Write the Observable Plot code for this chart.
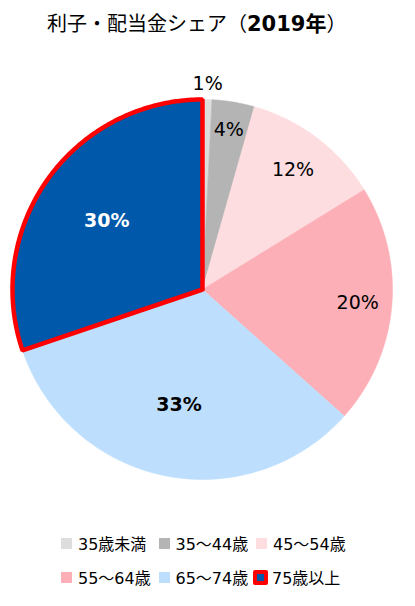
<!DOCTYPE html>
<html><head><meta charset="utf-8">
<script src="https://cdn.jsdelivr.net/npm/d3@7"></script>
<script src="https://cdn.jsdelivr.net/npm/@observablehq/plot@0.6"></script>
<style>
html,body{margin:0;padding:0;background:#fff;}
#wrap{position:relative;width:415px;height:606px;overflow:hidden;font-family:"DejaVu Sans","Noto Sans CJK JP",sans-serif;color:#000;}
#title{position:absolute;left:47px;top:10px;font-size:20px;line-height:28px;white-space:nowrap;}
#title b{font-weight:bold;font-size:21px;}
#chart{position:absolute;left:0;top:50px;}
.leg{position:absolute;height:20px;display:flex;align-items:center;font-size:16px;white-space:nowrap;}
.sw{width:11px;height:11px;margin-right:6px;box-sizing:border-box;}
</style></head>
<body><div id="wrap">
<div id="title">利子・配当金シェア（<b>2019年</b>）</div>
<div id="chart"></div>
<div id="legend"></div>
</div>
<script>
const ages = ["35歳未満", "35～44歳", "45～54歳", "55～64歳", "65～74歳", "75歳以上"];
const shares = [0.8, 3.6, 11.8, 20.4, 33.2, 30.2];
const colors = ["#dddddd", "#b4b4b4", "#fddde0", "#fcafb6", "#bddffd", "#0058aa"];
const highlight = "75歳以上";

const W = 415, H = 460, R = 190, cx = 202, cy = 239;
const arcs = d3.pie().sort(null).value(d => d)(shares);

const pts = [];
arcs.forEach((a, i) => {
  const age = ages[i];
  pts.push({age, x: 0, y: 0});
  const n = Math.max(2, Math.ceil((a.endAngle - a.startAngle) / (Math.PI / 360)));
  for (let k = 0; k <= n; k++) {
    const t = a.startAngle + (a.endAngle - a.startAngle) * k / n;
    pts.push({age, x: Math.sin(t), y: Math.cos(t)});
  }
  pts.push({age, x: 0, y: 0});
});

const labels = arcs.map((a, i) => {
  const m = (a.startAngle + a.endAngle) / 2;
  const v = shares[i];
  const r = v < 2 ? 1.08 : v < 5 ? 0.85 : v < 15 ? 0.79 : v < 25 ? 0.82 : 0.62;
  return {age: ages[i], x: Math.sin(m) * r, y: Math.cos(m) * r,
          text: Math.round(v) + "%", big: v >= 30, hl: ages[i] === highlight};
});

const chart = Plot.plot({
  width: W, height: H,
  marginTop: 0, marginRight: 0, marginBottom: 0, marginLeft: 0,
  x: {domain: [-cx / R, (W - cx) / R], axis: null},
  y: {domain: [-(H - cy) / R, cy / R], axis: null},
  color: {domain: ages, range: colors},
  style: {fontFamily: '"DejaVu Sans","Noto Sans CJK JP",sans-serif', background: "transparent"},
  marks: [
    Plot.line(pts.filter(d => d.age !== highlight), {x: "x", y: "y", z: "age", fill: "age", stroke: "age", strokeWidth: 0.5, curve: "linear"}),
    Plot.line(pts.filter(d => d.age === highlight), {x: "x", y: "y", z: "age", fill: "age", stroke: "#ff0000", strokeWidth: 4.5, strokeLinejoin: "miter", curve: "linear"}),
    Plot.text(labels.filter(d => !d.big), {x: "x", y: "y", text: "text", fill: "#000", fontSize: 19}),
    Plot.text(labels.filter(d => d.big), {x: "x", y: "y", text: "text", fill: d => d.hl ? "#fff" : "#000", fontSize: 19, fontWeight: "bold"})
  ]
});
document.getElementById("chart").appendChild(chart);

const legend = document.getElementById("legend");
ages.forEach((age, i) => {
  const row = Math.floor(i / 3), col = i % 3;
  const item = document.createElement("div");
  item.className = "leg";
  const hl = age === highlight;
  item.style.left = (61 + col * 97.5 - (hl ? 3 : 0)) + "px";
  item.style.top = (533 + row * 34) + "px";
  const sw = document.createElement("div");
  sw.className = "sw";
  sw.style.background = colors[i];
  if (hl) {
    sw.style.width = "15px"; sw.style.height = "15px";
    sw.style.border = "4px solid #ff0000"; sw.style.borderRadius = "2px";
    sw.style.marginRight = "4px";
  }
  const tx = document.createElement("span");
  tx.textContent = age;
  item.appendChild(sw); item.appendChild(tx);
  legend.appendChild(item);
});
</script>
</body></html>
